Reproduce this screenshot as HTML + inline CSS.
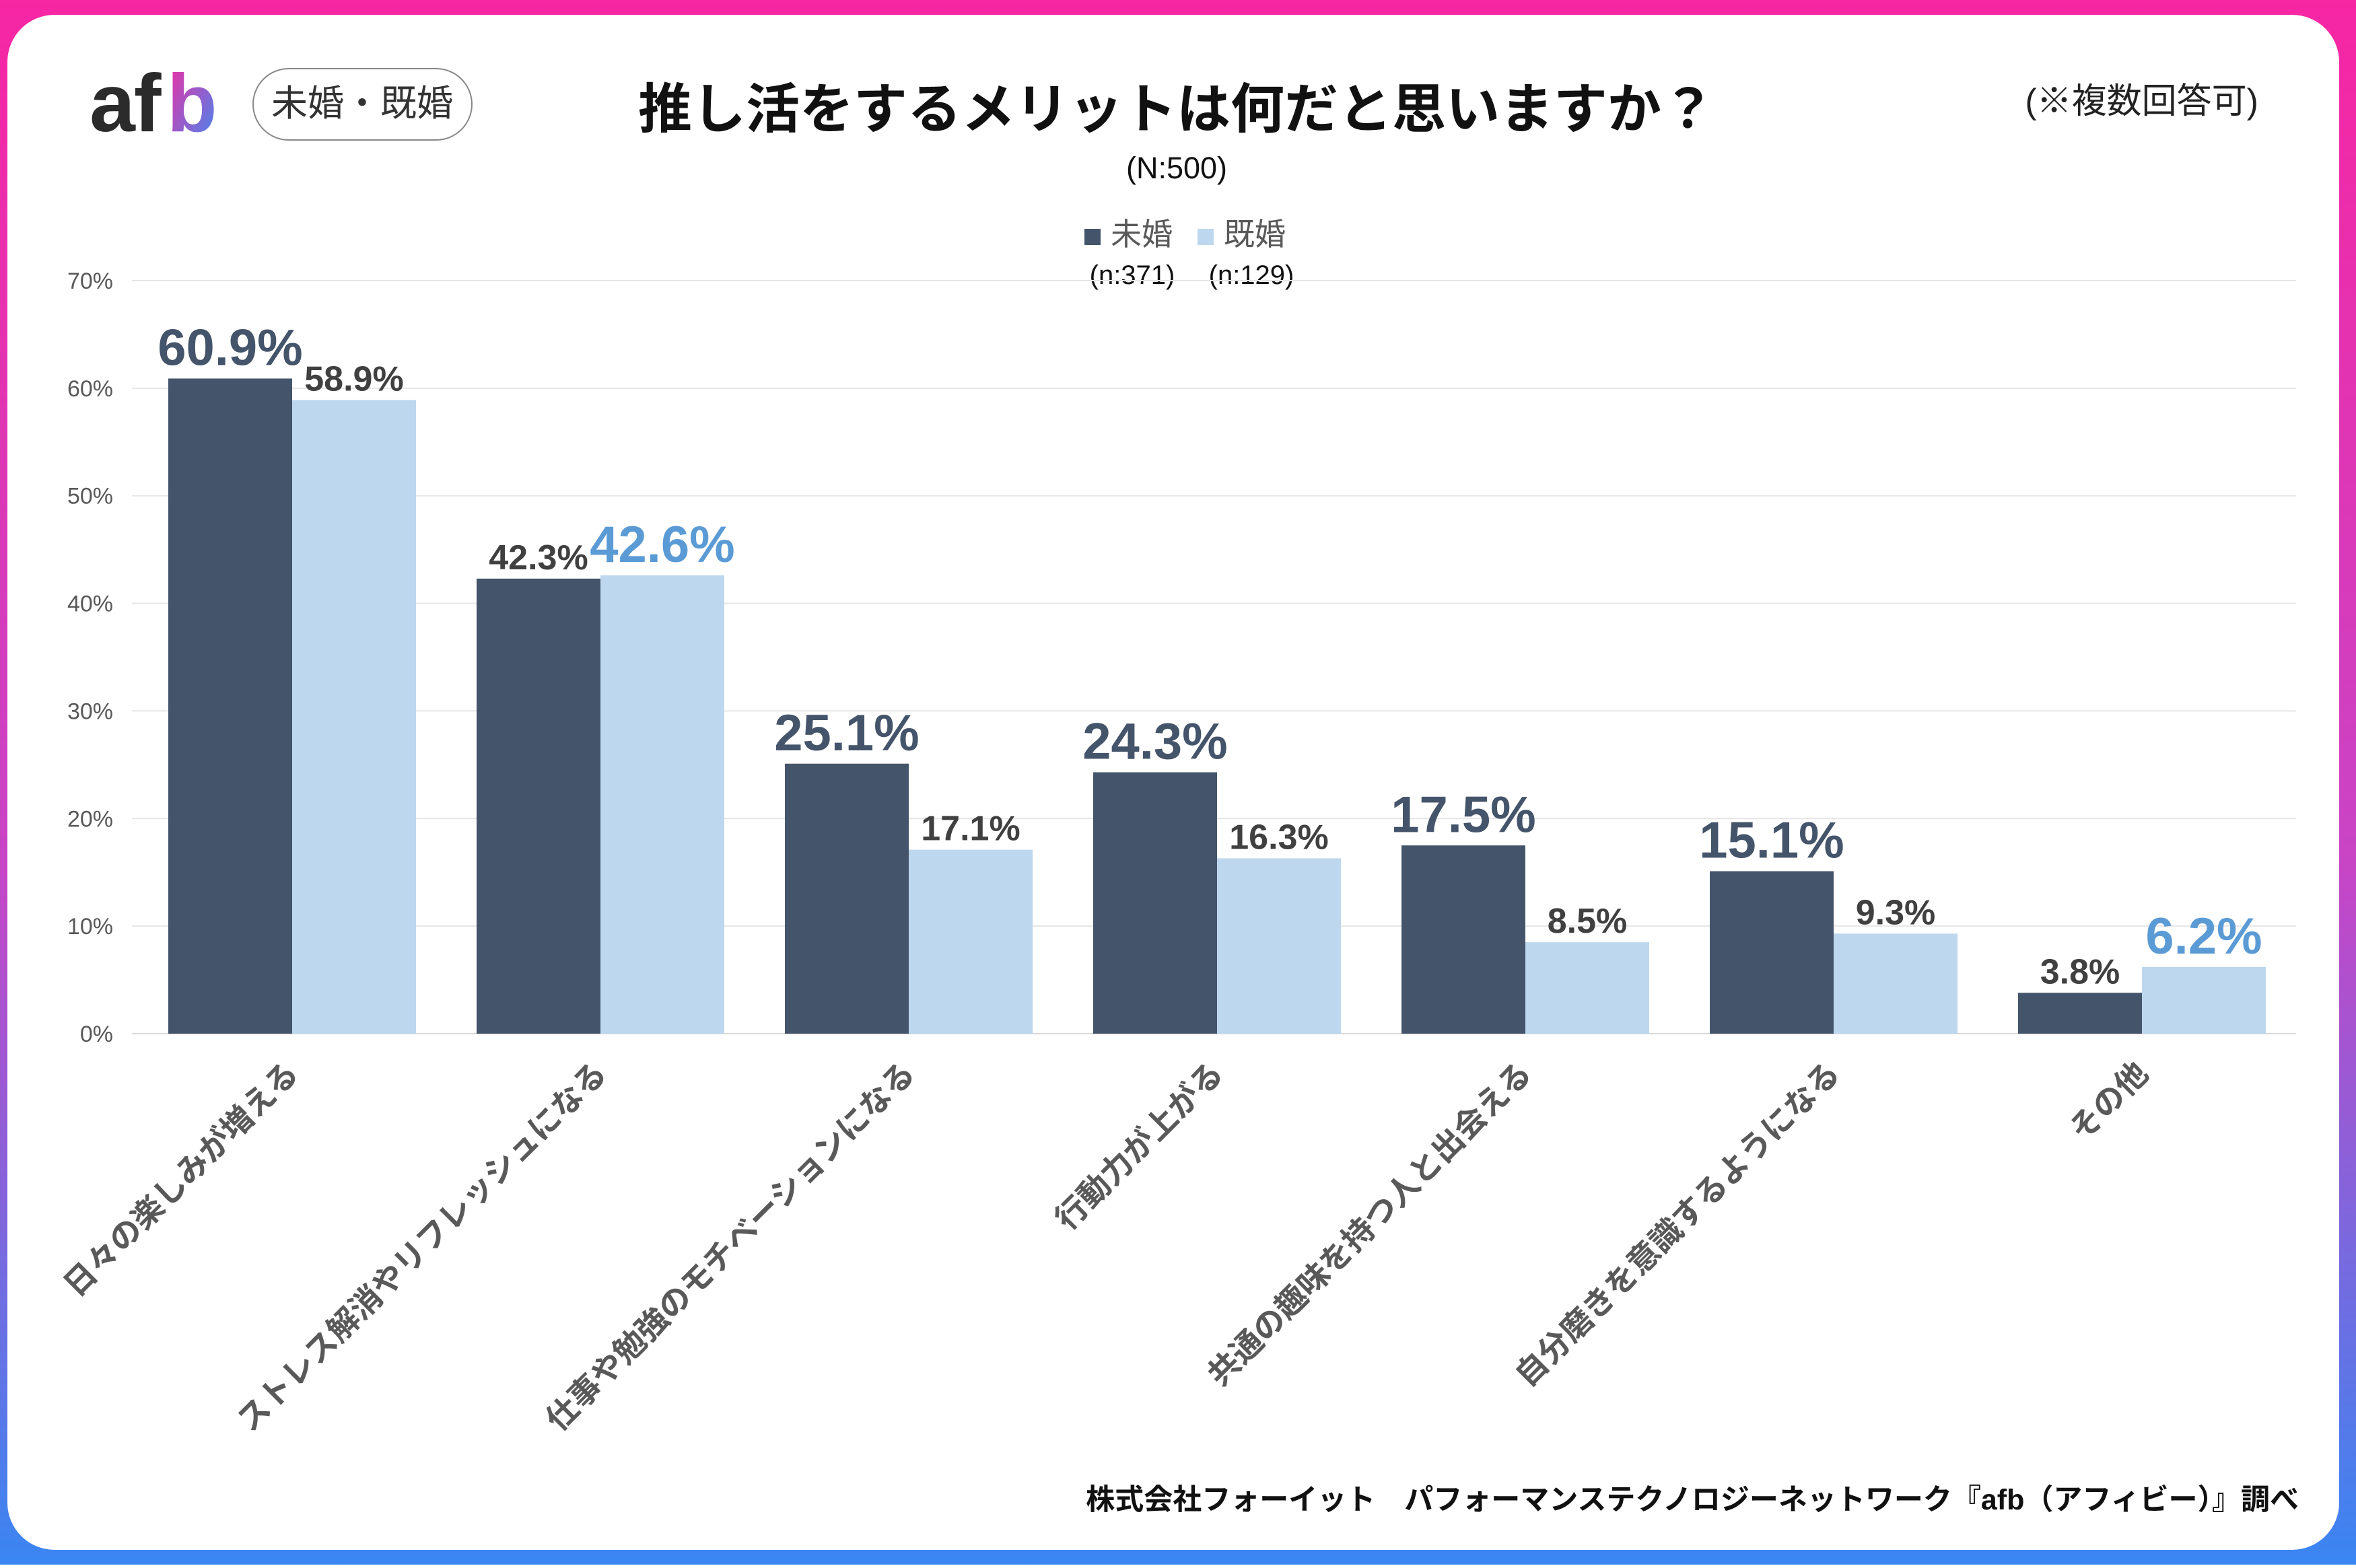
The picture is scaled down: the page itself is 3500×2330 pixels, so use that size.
<!DOCTYPE html>
<html><head><meta charset="utf-8">
<style>
html,body{margin:0;padding:0;background:#fff;}
body{width:3500px;height:2325px;overflow:hidden;font-family:"Liberation Sans","Noto Sans CJK JP",sans-serif;}
</style></head>
<body>
<svg id="chart" width="3500" height="2325" viewBox="0 0 3500 2325" xmlns="http://www.w3.org/2000/svg" font-family="Liberation Sans, Noto Sans CJK JP, sans-serif">
<defs>
<linearGradient id="bg" x1="0" y1="0" x2="0" y2="1">
<stop offset="0" stop-color="#f726a3"/><stop offset="0.55" stop-color="#c845c6"/><stop offset="1" stop-color="#3a86f2"/>
</linearGradient>
<linearGradient id="lg" x1="0" y1="0" x2="1" y2="1">
<stop offset="0" stop-color="#f72aa0"/><stop offset="1" stop-color="#3d8cf2"/>
</linearGradient>
</defs>
<rect x="0" y="0" width="3500" height="2325" fill="url(#bg)"/>
<rect x="11" y="22" width="3464" height="2281" rx="70" fill="#fff"/>
<g>
<text x="133" y="195" font-size="122" font-weight="bold" fill="#2b2b2b" letter-spacing="-2">af</text>
<text x="248" y="195" font-size="122" font-weight="bold" fill="url(#lg)">b</text>
</g>
<rect x="376" y="102" width="325" height="106" rx="53" fill="#fff" stroke="#888" stroke-width="2"/>
<text x="538" y="172" font-size="54" fill="#333" text-anchor="middle">未婚・既婚</text>
<text x="1748" y="190" font-size="80" font-weight="bold" fill="#111" text-anchor="middle">推し活をするメリットは何だと思いますか？</text>
<text x="1748" y="265" font-size="45" fill="#111" text-anchor="middle">(N:500)</text>
<text x="3355" y="168" font-size="52" fill="#222" text-anchor="end">(※複数回答可)</text>
<g>
<rect x="1611" y="340" width="24" height="24" fill="#44546a"/>
<text x="1650" y="364" font-size="46" fill="#595959">未婚</text>
<rect x="1779" y="340" width="24" height="24" fill="#bdd7ee"/>
<text x="1818" y="364" font-size="46" fill="#595959">既婚</text>
<text x="1682" y="422" font-size="40" fill="#111" text-anchor="middle">(n:371)</text>
<text x="1859" y="422" font-size="40" fill="#111" text-anchor="middle">(n:129)</text>
</g>
<g id="plot"></g>
<text x="3415" y="2243" font-size="43" font-weight="bold" fill="#111" text-anchor="end">株式会社フォーイット　パフォーマンステクノロジーネットワーク『afb（アフィビー）』調べ</text>
</svg>
<script>
const categories = ["日々の楽しみが増える","ストレス解消やリフレッシュになる","仕事や勉強のモチベーションになる","行動力が上がる","共通の趣味を持つ人と出会える","自分磨きを意識するようになる","その他"];
const unmarried = [60.9,42.3,25.1,24.3,17.5,15.1,3.8];
const married = [58.9,42.6,17.1,16.3,8.5,9.3,6.2];
const ticks = [0,10,20,30,40,50,60,70];

const NS="http://www.w3.org/2000/svg";
const plot=document.getElementById('plot');
const x0=196,x1=3411,y0=1536,yTop=417,yMax=70;
const firstBar=250, gw=458, bw=184;
const yS=v=>y0-(v/yMax)*(y0-yTop);
function mk(tag,attrs,txt){const e=document.createElementNS(NS,tag);for(const k in attrs)e.setAttribute(k,attrs[k]);if(txt!==undefined)e.textContent=txt;plot.appendChild(e);return e;}
ticks.forEach(t=>{
  const y=yS(t);
  const g=mk('line',{x1:x0,x2:x1,y1:y,y2:y,stroke:t===0?'#d9d9d9':'#e6e6e6','stroke-width':2});
  
  
  const l=mk('text',{x:168,y:y+12,'font-size':34,fill:'#595959','text-anchor':'end'},t+'%');
  
  
});
categories.forEach((c,i)=>{
  const gx=firstBar+gw*i;
  const vals=[unmarried[i],married[i]];
  const big=unmarried[i]>=married[i]?0:1;
  vals.forEach((v,j)=>{
    const bx=gx+bw*j, by=yS(v);
    const r=mk('rect',{x:bx,y:by,width:bw,height:y0-by,fill:j===0?'#44546a':'#bdd7ee'});
    
    
    const isBig=j===big;
    const t=mk('text',{x:bx+bw/2,y:by-(isBig?20:14),'font-size':isBig?76:52,'font-weight':'bold','text-anchor':'middle',fill:isBig?(j===0?'#44546a':'#5b9bd5'):'#404040'},v.toFixed(1)+'%');
    
    
  });
  const cx=gx+bw+12;
  const cl=mk('text',{x:cx,y:1598,'font-size':47,'font-weight':'bold',fill:'#595959','text-anchor':'end',transform:`rotate(-45 ${cx} 1598)`},c);
  
  
});
</script>
</body></html>
